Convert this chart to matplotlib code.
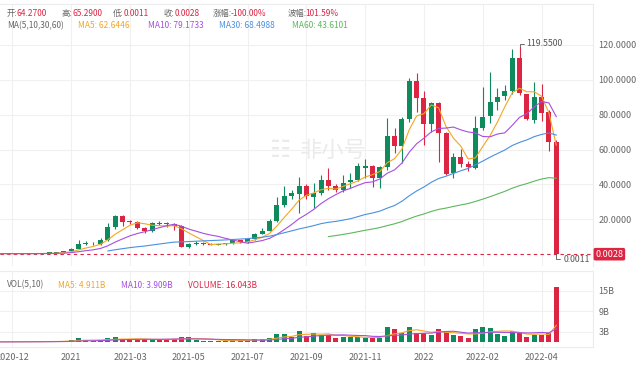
import numpy as np
import pandas as pd
import matplotlib
matplotlib.use('Agg')
import matplotlib.pyplot as plt
import matplotlib.transforms as mtransforms

plt.rcParams['font.family'] = ['Noto Sans CJK SC', 'DejaVu Sans']

# weekly candles, oldest first
opens = [0.30, 0.35, 0.33, 0.38, 0.36, 0.42, 0.55, 0.62, 1.0, 1.9,
         3.0, 5.8, 6.0, 5.6, 8.2, 15.8, 21.9, 18.7, 18.4, 15.2,
         13.1, 17.7, 17.4, 17.2, 16.4, 4.3, 5.7, 6.4, 5.9, 5.5,
         5.7, 6.2, 8.1, 6.9, 8.5, 11.6, 13.5, 19.2, 28.2, 33.3,
         34.5, 39.1, 33.0, 34.9, 42.5, 39.1, 36.8, 41.6, 42.5, 49.6,
         50.5, 43.5, 50.1, 67.7, 62.0, 77.7, 99.4, 89.3, 74.4, 86.8,
         69.6, 46.3, 55.9, 51.7, 49.6, 72.5, 79.2, 87.4, 90.7, 93.5,
         112.2, 91.8, 76.9, 90.3, 81.7, 64.27]
highs = [0.38, 0.37, 0.40, 0.40, 0.44, 0.58, 0.66, 1.1, 2.1, 3.3,
         8.1, 7.6, 7.2, 9.1, 17.6, 22.6, 22.3, 19.8, 19.0, 15.8,
         18.6, 18.8, 18.3, 17.9, 16.9, 6.4, 7.3, 7.0, 6.3, 6.1,
         6.6, 8.4, 8.4, 8.9, 12.1, 14.8, 20.0, 33.0, 39.1, 36.8,
         44.4, 40.5, 41.0, 45.4, 49.2, 40.0, 45.4, 46.3, 52.4, 54.3,
         51.0, 50.5, 77.9, 72.1, 78.5, 100.8, 103.6, 93.3, 87.2, 87.0,
         70.2, 57.8, 60.1, 53.6, 79.2, 96.0, 104.6, 95.4, 97.0, 117.4,
         119.55, 92.0, 98.9, 97.5, 82.6, 65.29]
lows = [0.28, 0.31, 0.31, 0.34, 0.34, 0.40, 0.52, 0.60, 0.95, 1.6,
        2.8, 5.0, 5.0, 5.3, 7.8, 14.5, 16.4, 17.4, 14.6, 12.3,
        12.5, 16.5, 15.4, 14.0, 4.0, 3.5, 5.0, 5.2, 5.1, 5.2,
        5.3, 6.0, 6.6, 6.7, 8.3, 11.3, 13.2, 18.6, 27.0, 31.5,
        23.4, 31.8, 26.3, 34.0, 36.8, 35.5, 35.8, 37.7, 42.0, 43.5,
        38.7, 37.7, 48.5, 57.8, 52.3, 76.0, 81.7, 62.6, 70.2, 53.0,
        45.5, 43.5, 49.8, 47.9, 49.0, 71.2, 75.0, 82.6, 88.4, 92.0,
        91.5, 77.0, 75.4, 76.5, 59.3, 0.0011]
closes = [0.35, 0.33, 0.38, 0.36, 0.42, 0.55, 0.62, 1.0, 1.9, 3.0,
          5.8, 6.0, 5.6, 8.2, 15.8, 21.9, 18.7, 18.4, 15.2, 13.1,
          17.7, 17.4, 17.2, 16.4, 4.3, 5.7, 6.4, 5.9, 5.5, 5.7,
          6.2, 8.1, 6.9, 8.5, 11.6, 13.5, 19.2, 28.2, 33.3, 34.9,
          39.1, 33.3, 34.9, 42.5, 39.1, 36.8, 41.0, 42.5, 50.5, 50.4,
          43.5, 50.1, 67.7, 62.0, 77.7, 99.4, 89.3, 74.4, 86.8, 69.6,
          46.0, 55.9, 51.7, 49.8, 72.5, 78.8, 87.4, 90.3, 93.5, 112.2,
          92.2, 77.3, 90.3, 80.7, 64.5, 0.0028]
# volume in billions
volumes = [0.15, 0.15, 0.18, 0.15, 0.2, 0.22, 0.25, 0.3, 0.4, 0.6,
           1.1, 0.6, 0.5, 0.6, 1.1, 1.5, 0.9, 0.7, 0.8, 0.9,
           1.0, 0.7, 0.8, 1.0, 1.4, 1.5, 0.8, 0.5, 0.4, 0.4,
           0.4, 0.6, 0.6, 0.6, 0.9, 0.9, 1.2, 2.4, 2.4, 1.6,
           3.4, 1.8, 2.8, 2.1, 2.1, 1.3, 1.6, 1.6, 1.4, 1.3,
           1.3, 1.3, 4.5, 3.8, 2.8, 4.5, 2.6, 2.6, 2.1, 3.8,
           3.3, 2.1, 1.8, 1.1, 3.8, 4.4, 4.1, 2.5, 1.7, 3.4,
           2.8, 1.5, 2.2, 2.2, 2.6, 16.043]
# weeks left of the visible window, only used to warm up the moving averages
pre_closes = [0.45, 0.55, 0.50, 0.42, 0.36, 0.33, 0.32, 0.30,
              0.31, 0.33, 0.30, 0.28, 0.29, 0.31, 0.33]
pre_volumes = [0.12, 0.15, 0.14, 0.12, 0.1, 0.1, 0.1, 0.1,
               0.1, 0.12, 0.1, 0.1, 0.12, 0.13, 0.14]

tick_idx = [1, 9, 17, 25, 33, 41, 49, 57, 65, 73]
tick_labels = ['2020-12', '2021', '2021-03', '2021-05', '2021-07',
               '2021-09', '2021-11', '2022', '2022-02', '2022-04']
price_ticks = [20, 40, 60, 80, 100, 120]
vol_ticks = [3, 9, 15]

RED = '#dc2543'
GREEN = '#0f8a5c'
MA_COLORS = {5: '#f5a623', 10: '#a64fe0', 30: '#4a90e2', 60: '#5cb85c'}
GRAY = '#666666'
GRID = '#f0f0f0'

W, H = 640, 366
fig = plt.figure(figsize=(W / 100, H / 100), dpi=100)
fig.patch.set_facecolor('white')

def px_box(left, top, right, bottom):
    return [left / W, 1 - bottom / H, (right - left) / W, (bottom - top) / H]

ax = fig.add_axes(px_box(0, 4, 593, 266))
axv = fig.add_axes(px_box(0, 271, 593, 347))

o = np.array(opens)
h = np.array(highs)
l = np.array(lows)
c = np.array(closes)
v = np.array(volumes)
x = np.arange(len(c))
colors = np.where(c >= o, GREEN, RED)

# candles
ax.vlines(x, l, h, colors=colors, lw=0.8, zorder=3)
body = np.maximum(np.abs(c - o), 0.5)
ax.bar(x, body, bottom=np.minimum(o, c), width=0.68, color=colors,
       linewidth=0, zorder=4)

# moving averages on price
all_close = pd.Series(pre_closes + closes)
xs = np.arange(-len(pre_closes), len(closes))
for n, col in MA_COLORS.items():
    ax.plot(xs, all_close.rolling(n).mean(), color=col, lw=0.8, zorder=5)

# last price line
ax.axhline(closes[-1], color=RED, lw=0.8, dashes=(3, 3), zorder=2)

# volume
axv.bar(x, v, width=0.68, color=colors, linewidth=0, zorder=3)
all_vol = pd.Series(pre_volumes + volumes)
axv.plot(xs, all_vol.rolling(5).mean(), color=MA_COLORS[5], lw=0.8, zorder=4)
axv.plot(xs, all_vol.rolling(10).mean(), color=MA_COLORS[10], lw=0.8, zorder=4)

for a in (ax, axv):
    a.set_xlim(-0.687, 80.0)
    a.set_xticks(tick_idx)
    a.yaxis.tick_right()
    a.grid(color=GRID, lw=0.8)
    a.set_axisbelow(True)
    a.tick_params(length=0, labelsize=6.5, labelcolor=GRAY)
    for s in a.spines.values():
        s.set_color('#ececec')
        s.set_linewidth(0.8)
    a.spines['left'].set_visible(False)

ax.set_ylim(-6.76, 143.4)
ax.set_yticks(price_ticks)
ax.set_yticklabels([f'{t:.4f}' for t in price_ticks])
ax.tick_params(axis='y', pad=4)
ax.tick_params(axis='x', labelbottom=False)
ax.spines['bottom'].set_visible(False)

axv.set_ylim(-1.37, 20.7)
axv.set_yticks(vol_ticks)
axv.set_yticklabels([f'{t}B' for t in vol_ticks])
axv.set_xticklabels(tick_labels)
axv.tick_params(axis='y', pad=4)
axv.tick_params(axis='x', pad=4)

# high / low markers
elbow = dict(arrowstyle='-', color='#555555', lw=0.6, shrinkA=0, shrinkB=0,
             connectionstyle='angle,angleA=0,angleB=90,rad=0')
ax.annotate('119.5500', xy=(70, 119.55), xytext=(5, 1.5), textcoords='offset points',
            fontsize=6.3, color='#555555', va='center', ha='left', arrowprops=elbow)
ax.annotate('0.0011', xy=(75, 0.0011), xytext=(5, -3.5), textcoords='offset points',
            fontsize=6.3, color='#555555', va='center', ha='left', arrowprops=elbow)

# current price tag on the axis
trans = mtransforms.blended_transform_factory(ax.transAxes, ax.transData)
ax.text(1.004, closes[-1], f'{closes[-1]:.4f}', transform=trans, fontsize=6.5,
        color='white', va='center', ha='left', clip_on=False, zorder=10,
        bbox=dict(boxstyle='round,pad=0.2', fc=RED, ec='none'))

# watermark
fig.text(280 / W, 1 - 150 / H, '☷', fontsize=17, color='#ebebeb',
         ha='center', va='center', family=['DejaVu Sans'])
fig.text(333 / W, 1 - 150 / H, '非小号', fontsize=16, color='#ebebeb',
         ha='center', va='center')

# header lines
def put(px, py, s, col):
    fig.text(px / W, 1 - py / H, s, fontsize=6, color=col, ha='left', va='center')

row1 = [(6.7, '开:', 16.7, '64.2700'), (61.7, '高:', 72.7, '65.2900'),
        (113.3, '低:', 123.3, '0.0011'), (164.0, '收:', 175.0, '0.0028'),
        (212.7, '涨幅:', 231.0, '-100.00%'), (287.3, '波幅:', 305.7, '101.59%')]
for lx, lab, vx, val in row1:
    put(lx, 13.3, lab, GRAY)
    put(vx, 13.3, val, RED)

put(6.7, 25.7, 'MA(5,10,30,60)', GRAY)
put(77.7, 25.7, 'MA5: 62.6446', MA_COLORS[5])
put(147.7, 25.7, 'MA10: 79.1733', MA_COLORS[10])
put(219.0, 25.7, 'MA30: 68.4988', MA_COLORS[30])
put(292.3, 25.7, 'MA60: 43.6101', MA_COLORS[60])

put(6.7, 285, 'VOL(5,10)', GRAY)
put(58.3, 285, 'MA5: 4.911B', MA_COLORS[5])
put(120.7, 285, 'MA10: 3.909B', MA_COLORS[10])
put(188.3, 285, 'VOLUME: 16.043B', RED)

fig.savefig('out.png', dpi=100)
